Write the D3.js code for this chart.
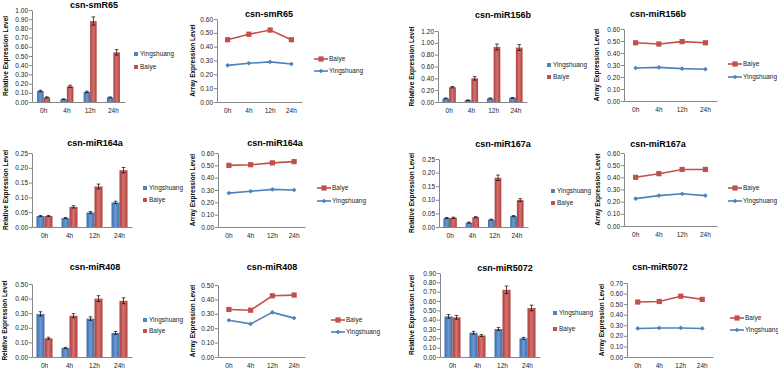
<!DOCTYPE html>
<html>
<head>
<meta charset="utf-8">
<script src="https://d3js.org/d3.v7.min.js"></script>
<style>
body { margin: 0; background: #fff; }
text { font-family: "Liberation Sans", Arial, sans-serif; }
</style>
</head>
<body>
<svg id="chart" width="778" height="370"></svg>
<script>
// categories shared by all panels
var times = ["0h", "4h", "12h", "24h"];

// qRT-PCR bar data (Relative Expression Level)
var smR65Ying = [0.12, 0.03, 0.11, 0.05];
var smR65Bai = [0.05, 0.17, 0.88, 0.54];
var smR65YingErr = [0.008, 0.004, 0.008, 0.005];
var smR65BaiErr = [0.006, 0.012, 0.045, 0.03];

var miR156bYing = [0.06, 0.03, 0.06, 0.07];
var miR156bBai = [0.25, 0.40, 0.93, 0.92];
var miR156bYingErr = [0.008, 0.005, 0.008, 0.006];
var miR156bBaiErr = [0.012, 0.03, 0.05, 0.05];

var miR164aYing = [0.037, 0.030, 0.049, 0.083];
var miR164aBai = [0.037, 0.068, 0.137, 0.192];
var miR164aYingErr = [0.002, 0.002, 0.003, 0.004];
var miR164aBaiErr = [0.002, 0.004, 0.008, 0.009];

var miR167aYing = [0.033, 0.016, 0.027, 0.040];
var miR167aBai = [0.034, 0.036, 0.181, 0.099];
var miR167aYingErr = [0.002, 0.002, 0.002, 0.002];
var miR167aBaiErr = [0.002, 0.002, 0.010, 0.005];

var miR408Ying = [0.295, 0.062, 0.263, 0.165];
var miR408Bai = [0.128, 0.283, 0.400, 0.385];
var miR408YingErr = [0.015, 0.004, 0.012, 0.010];
var miR408BaiErr = [0.007, 0.014, 0.020, 0.020];

var miR5072Ying = [0.435, 0.260, 0.300, 0.200];
var miR5072Bai = [0.425, 0.230, 0.720, 0.525];
var miR5072YingErr = [0.02, 0.015, 0.015, 0.01];
var miR5072BaiErr = [0.02, 0.01, 0.04, 0.03];

// microarray line data (Array Expression Level)
var arr_smR65Bai = [0.45, 0.49, 0.52, 0.45];
var arr_smR65Ying = [0.265, 0.28, 0.29, 0.275];
var arr_miR156bBai = [0.485, 0.475, 0.495, 0.485];
var arr_miR156bYing = [0.275, 0.28, 0.27, 0.265];
var arr_miR164aBai = [0.50, 0.505, 0.52, 0.53];
var arr_miR164aYing = [0.275, 0.29, 0.305, 0.30];
var arr_miR167aBai = [0.40, 0.43, 0.465, 0.465];
var arr_miR167aYing = [0.225, 0.25, 0.265, 0.25];
var arr_miR408Bai = [0.33, 0.325, 0.425, 0.43];
var arr_miR408Ying = [0.255, 0.23, 0.31, 0.27];
var arr_miR5072Bai = [0.52, 0.525, 0.575, 0.545];
var arr_miR5072Ying = [0.27, 0.275, 0.275, 0.27];

// y axis tick values
var ticks10 = d3.range(0, 1.0001, 0.1);
var ticks12 = d3.range(0, 1.2001, 0.2);
var ticks06 = d3.range(0, 0.6001, 0.1);
var ticks025 = d3.range(0, 0.2501, 0.05);
var ticks05 = d3.range(0, 0.5001, 0.1);
var ticks09 = d3.range(0, 0.9001, 0.1);
var ticks07 = d3.range(0, 0.7001, 0.1);

var blue = "#4F81BD", red = "#C0504D";
var svg = d3.select("#chart");

// bar gradients, excel 2007 style
var defs = svg.append("defs");
function grad(id, dark, light){
    var g = defs.append("linearGradient").attr("id", id)
	.attr("x1", 0).attr("x2", 1).attr("y1", 0).attr("y2", 0);
    g.append("stop").attr("offset", 0).attr("stop-color", dark);
    g.append("stop").attr("offset", 0.5).attr("stop-color", light);
    g.append("stop").attr("offset", 1).attr("stop-color", dark);
}
grad("gBlue", "#3D6DAA", "#6A98D2");
grad("gRed", "#A8403D", "#D6716E");

// common axis frame
function frame(p, g, ticks, ylab){
    var y = d3.scaleLinear().domain([0, p.yMax]).range([p.bottom, p.top]);
    var x = d3.scaleBand().domain(times).range([p.left, p.right]);
    var yAxis = d3.axisLeft(y).tickValues(ticks).tickFormat(d3.format(".2f")).tickSize(3).tickSizeOuter(0);
    var ya = g.append("g").attr("transform", "translate(" + p.left + ",0)").call(yAxis);
    ya.select(".domain").attr("stroke", "#868686");
    ya.selectAll(".tick line").attr("stroke", "#868686");
    ya.selectAll(".tick text").attr("font-size", 6.5).attr("fill", "#222").attr("x", -4);
    var xa = g.append("g").attr("transform", "translate(0," + p.bottom + ")")
	.call(d3.axisBottom(x).tickSize(0).tickPadding(6));
    xa.select(".domain").attr("stroke", "#868686");
    xa.selectAll(".tick text").attr("font-size", 6.5).attr("fill", "#222");
    g.append("text").attr("x", p.tx).attr("y", p.ty).attr("text-anchor", "middle")
	.attr("font-size", 9).attr("font-weight", "bold").text(p.title);
    g.append("text").attr("transform", "translate(" + p.lx + "," + ((p.top + p.bottom) / 2) + ") rotate(-90)")
	.attr("text-anchor", "middle").attr("dominant-baseline", "middle")
	.attr("font-size", 6.5).attr("font-weight", "bold").text(ylab);
    return {x: x, y: y};
}

function barPanel(p, ying, bai, yingErr, baiErr, ticks){
    var g = svg.append("g");
    var s = frame(p, g, ticks, "Relative Expression Level");
    var bw = s.x.bandwidth() * p.bf;
    var series = [
	{name: "Yingshuang", vals: ying, err: yingErr, fill: "url(#gBlue)", off: -bw},
	{name: "Baiye", vals: bai, err: baiErr, fill: "url(#gRed)", off: 0}
    ];
    series.forEach(function(se){
	var cx = function(d, i){ return s.x(times[i]) + s.x.bandwidth() / 2 + se.off; };
	g.selectAll(null).data(se.vals).enter().append("rect")
	    .attr("x", cx).attr("width", bw)
	    .attr("y", d => s.y(d)).attr("height", d => p.bottom - s.y(d))
	    .attr("fill", se.fill);
	se.vals.forEach(function(v, i){
	    var mx = cx(v, i) + bw / 2, e = se.err[i];
	    g.append("line").attr("x1", mx).attr("x2", mx).attr("y1", s.y(v - e)).attr("y2", s.y(v + e))
		.attr("stroke", "#000").attr("stroke-width", 0.7);
	    [v - e, v + e].forEach(function(w){
		g.append("line").attr("x1", mx - 1.8).attr("x2", mx + 1.8).attr("y1", s.y(w)).attr("y2", s.y(w))
		    .attr("stroke", "#000").attr("stroke-width", 0.7);
	    });
	});
    });
    // legend
    series.forEach(function(se, i){
	var ly = p.legY[i];
	g.append("rect").attr("x", p.legX).attr("y", ly - 2).attr("width", 4).attr("height", 4)
	    .attr("fill", i == 0 ? blue : red);
	g.append("text").attr("x", p.legX + 6).attr("y", ly).attr("dominant-baseline", "middle")
	    .attr("font-size", 6.5).attr("fill", "#222").text(se.name);
    });
}

function marker(g, type, cx, cy, col){
    if (type == "square"){
	g.append("rect").attr("x", cx - 2.6).attr("y", cy - 2.6).attr("width", 5.2).attr("height", 5.2).attr("fill", col);
    } else {
	g.append("path").attr("d", d3.symbol(d3.symbolDiamond2, 14)()).attr("transform", "translate(" + cx + "," + cy + ")")
	    .attr("fill", col);
    }
}

function linePanel(p, bai, ying, ticks){
    var g = svg.append("g");
    var s = frame(p, g, ticks, "Array Expression Level");
    var cx = i => s.x(times[i]) + s.x.bandwidth() / 2;
    var line = d3.line().x((d, i) => cx(i)).y(d => s.y(d));
    var series = [
	{name: "Baiye", vals: bai, col: red, m: "square"},
	{name: "Yingshuang", vals: ying, col: blue, m: "diamond"}
    ];
    series.forEach(function(se){
	g.append("path").attr("d", line(se.vals)).attr("fill", "none")
	    .attr("stroke", se.col).attr("stroke-width", 1.6);
	se.vals.forEach((v, i) => marker(g, se.m, cx(i), s.y(v), se.col));
    });
    series.forEach(function(se, i){
	var ly = p.legY[i];
	g.append("line").attr("x1", p.legX).attr("x2", p.legX + 14).attr("y1", ly).attr("y2", ly)
	    .attr("stroke", se.col).attr("stroke-width", 1.6);
	marker(g, se.m, p.legX + 7, ly, se.col);
	g.append("text").attr("x", p.legX + 15).attr("y", ly).attr("dominant-baseline", "middle")
	    .attr("font-size", 6.5).attr("fill", "#222").text(se.name);
    });
}

// row 1
barPanel({title: "csn-smR65", left: 32, right: 125, top: 10, bottom: 102, yMax: 1.0, bf: 0.28,
	  tx: 94, ty: 8, lx: 6, legX: 134, legY: [54, 67]},
	 smR65Ying, smR65Bai, smR65YingErr, smR65BaiErr, ticks10);
linePanel({title: "csn-smR65", left: 217, right: 302, top: 19, bottom: 102, yMax: 0.6,
	   tx: 269, ty: 17, lx: 193, legX: 314, legY: [59, 71]},
	  arr_smR65Bai, arr_smR65Ying, ticks06);
barPanel({title: "csn-miR156b", left: 438, right: 527, top: 31, bottom: 102, yMax: 1.2, bf: 0.3,
	  tx: 503, ty: 18, lx: 412, legX: 547, legY: [65, 77]},
	 miR156bYing, miR156bBai, miR156bYingErr, miR156bBaiErr, ticks12);
linePanel({title: "csn-miR156b", left: 624, right: 717, top: 29, bottom: 101, yMax: 0.6,
	   tx: 658, ty: 17, lx: 597, legX: 728, legY: [64, 77]},
	  arr_miR156bBai, arr_miR156bYing, ticks06);

// row 2
barPanel({title: "csn-miR164a", left: 32, right: 132, top: 153, bottom: 227, yMax: 0.25, bf: 0.32,
	  tx: 95, ty: 146, lx: 6, legX: 143, legY: [188, 200]},
	 miR164aYing, miR164aBai, miR164aYingErr, miR164aBaiErr, ticks025);
linePanel({title: "csn-miR164a", left: 218, right: 305, top: 153, bottom: 227, yMax: 0.6,
	   tx: 275, ty: 146, lx: 193, legX: 317, legY: [188, 201]},
	  arr_miR164aBai, arr_miR164aYing, ticks06);
barPanel({title: "csn-miR167a", left: 439, right: 528, top: 159, bottom: 227, yMax: 0.25, bf: 0.3,
	  tx: 503, ty: 147, lx: 412, legX: 551, legY: [191, 203]},
	 miR167aYing, miR167aBai, miR167aYingErr, miR167aBaiErr, ticks025);
linePanel({title: "csn-miR167a", left: 624, right: 717, top: 153, bottom: 226, yMax: 0.6,
	   tx: 658, ty: 147, lx: 598, legX: 728, legY: [188, 201]},
	  arr_miR167aBai, arr_miR167aYing, ticks06);

// row 3
barPanel({title: "csn-miR408", left: 32, right: 132, top: 284, bottom: 357, yMax: 0.5, bf: 0.32,
	  tx: 95, ty: 270, lx: 5, legX: 143, legY: [320, 331]},
	 miR408Ying, miR408Bai, miR408YingErr, miR408BaiErr, ticks05);
linePanel({title: "csn-miR408", left: 218, right: 305, top: 285, bottom: 357, yMax: 0.5,
	   tx: 272, ty: 270, lx: 193, legX: 331, legY: [320, 332]},
	  arr_miR408Bai, arr_miR408Ying, ticks05);
barPanel({title: "csn-miR5072", left: 440, right: 540, top: 273, bottom: 357, yMax: 0.9, bf: 0.32,
	  tx: 505, ty: 271, lx: 412, legX: 553, legY: [313, 329]},
	 miR5072Ying, miR5072Bai, miR5072YingErr, miR5072BaiErr, ticks09);
linePanel({title: "csn-miR5072", left: 627, right: 713, top: 283, bottom: 357, yMax: 0.7,
	   tx: 660, ty: 270, lx: 602, legX: 730, legY: [318, 330]},
	  arr_miR5072Bai, arr_miR5072Ying, ticks07);
</script>
</body>
</html>
